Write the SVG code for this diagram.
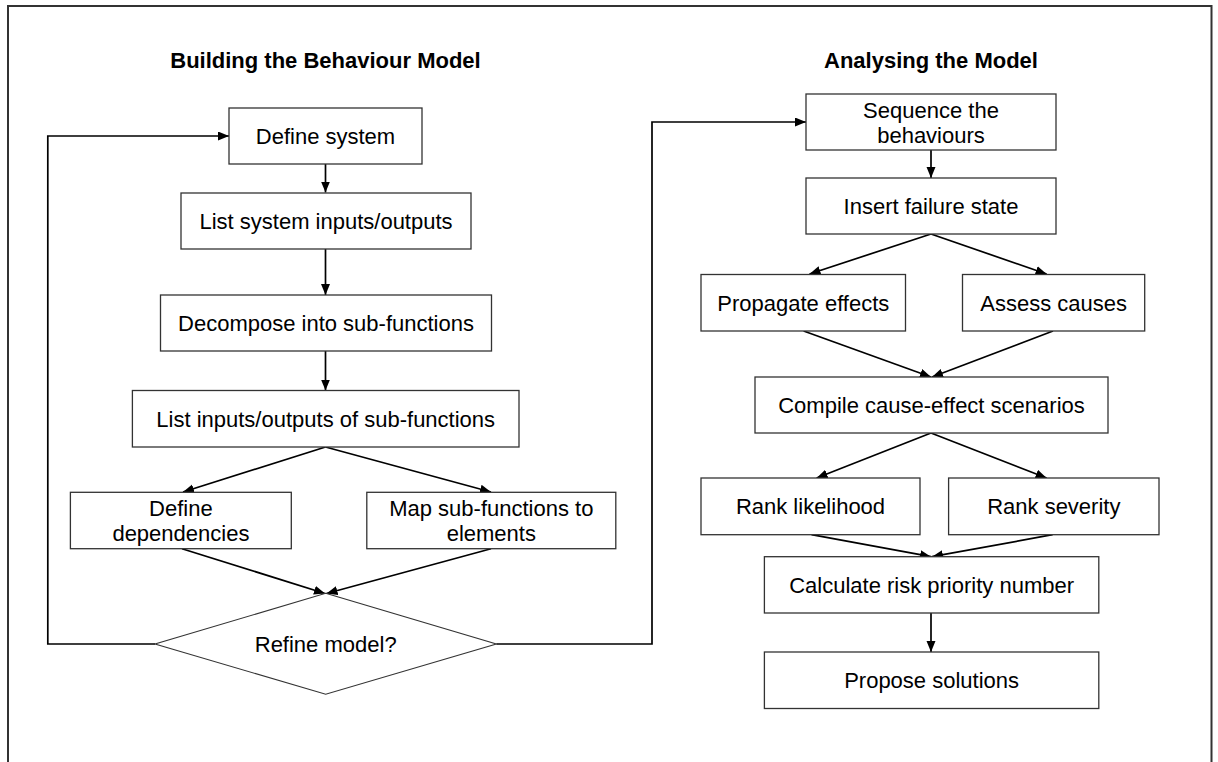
<svg xmlns="http://www.w3.org/2000/svg" width="1218" height="762" viewBox="0 0 1218 762">
  <defs>
    <marker id="arrow" markerUnits="userSpaceOnUse" markerWidth="12" markerHeight="10" refX="11" refY="4.5" orient="auto">
      <path d="M0,0 L11,4.5 L0,9 Z" fill="#000"/>
    </marker>
  </defs>
  <style>
    .box { fill: #fff; stroke: #333; stroke-width: 1.3; }
    .dia { fill: #fff; stroke: #333; stroke-width: 1.1; }
    .lbl { font-family: "Liberation Sans", Arial, sans-serif; font-size: 22px; fill: #000; text-anchor: middle; }
    .ttl { font-family: "Liberation Sans", Arial, sans-serif; font-size: 22px; font-weight: bold; fill: #000; text-anchor: middle; }
    .edge { fill: none; stroke: #000; stroke-width: 1.7; marker-end: url(#arrow); }
    .frame { fill: none; stroke: #333; stroke-width: 2; }
  </style>
  <rect width="1218" height="762" fill="#fff"/>

  <!-- open frame: left, top and right edges -->
  <path class="frame" d="M8,762 V6 H1211.5 V762"/>

  <!-- section headings -->
  <text class="ttl" x="325.5" y="68">Building the Behaviour Model</text>
  <text class="ttl" x="931" y="68">Analysing the Model</text>

  <!-- connectors -->
  <g id="connectors">
    <path class="edge" d="M325.5,164 V192.5"/>
    <path class="edge" d="M325.5,249 V295"/>
    <path class="edge" d="M325.5,351 V390.5"/>
    <path class="edge" d="M325.5,447 L183,492"/>
    <path class="edge" d="M325.5,447 L491,492"/>
    <path class="edge" d="M182,548.7 L325,593.5"/>
    <path class="edge" d="M491,548.7 L326.5,593.5"/>
    <path class="edge" d="M155,644 H47.8 V136 H229"/>
    <path class="edge" d="M496.4,644 H652 V122 H806"/>
    <path class="edge" d="M931,150 V178"/>
    <path class="edge" d="M931,234 L809.5,274"/>
    <path class="edge" d="M931,234 L1046.6,274"/>
    <path class="edge" d="M803.6,331 L931,377"/>
    <path class="edge" d="M1053,331 L932,377"/>
    <path class="edge" d="M931,433 L816.6,478"/>
    <path class="edge" d="M931,433 L1046.6,478"/>
    <path class="edge" d="M811.5,534.7 L931,556.7"/>
    <path class="edge" d="M1052.6,534.7 L932,556.7"/>
    <path class="edge" d="M931,613 V652"/>
  </g>

  <!-- building the behaviour model -->
  <g id="define-system">
    <rect class="box" x="229" y="108" width="193" height="56"/>
    <text class="lbl" x="325.5" y="144">Define system</text>
  </g>
  <g id="list-system-io">
    <rect class="box" x="181" y="193" width="290" height="56"/>
    <text class="lbl" x="326" y="229">List system inputs/outputs</text>
  </g>
  <g id="decompose">
    <rect class="box" x="160.5" y="295" width="331" height="56"/>
    <text class="lbl" x="326" y="331">Decompose into sub-functions</text>
  </g>
  <g id="list-subfunction-io">
    <rect class="box" x="132.4" y="390.5" width="386.6" height="56.5"/>
    <text class="lbl" x="325.7" y="426.7">List inputs/outputs of sub-functions</text>
  </g>
  <g id="define-dependencies">
    <rect class="box" x="70.4" y="492.3" width="220.9" height="56.4"/>
    <text class="lbl" x="180.9" y="516">Define</text>
    <text class="lbl" x="180.9" y="541">dependencies</text>
  </g>
  <g id="map-elements">
    <rect class="box" x="366.8" y="492.3" width="249" height="56.4"/>
    <text class="lbl" x="491.3" y="516">Map sub-functions to</text>
    <text class="lbl" x="491.3" y="541">elements</text>
  </g>
  <g id="refine-model">
    <polygon class="dia" points="325.7,593.3 496.4,644 325.7,694.3 155,644"/>
    <text class="lbl" x="325.7" y="652">Refine model?</text>
  </g>

  <!-- analysing the model -->
  <g id="sequence-behaviours">
    <rect class="box" x="806" y="94" width="250" height="56"/>
    <text class="lbl" x="931" y="117.5">Sequence the</text>
    <text class="lbl" x="931" y="142.5">behaviours</text>
  </g>
  <g id="insert-failure">
    <rect class="box" x="806" y="178" width="250" height="56"/>
    <text class="lbl" x="931" y="214">Insert failure state</text>
  </g>
  <g id="propagate-effects">
    <rect class="box" x="701" y="274.5" width="204.5" height="56.5"/>
    <text class="lbl" x="803.3" y="310.7">Propagate effects</text>
  </g>
  <g id="assess-causes">
    <rect class="box" x="962.5" y="274.5" width="182.2" height="56.5"/>
    <text class="lbl" x="1053.6" y="310.7">Assess causes</text>
  </g>
  <g id="compile-scenarios">
    <rect class="box" x="755" y="377" width="353" height="56"/>
    <text class="lbl" x="931.5" y="413">Compile cause-effect scenarios</text>
  </g>
  <g id="rank-likelihood">
    <rect class="box" x="701" y="478" width="219" height="56.7"/>
    <text class="lbl" x="810.5" y="514.3">Rank likelihood</text>
  </g>
  <g id="rank-severity">
    <rect class="box" x="948.6" y="478" width="210.4" height="56.7"/>
    <text class="lbl" x="1053.8" y="514.3">Rank severity</text>
  </g>
  <g id="risk-priority">
    <rect class="box" x="764.4" y="556.7" width="334.4" height="56.3"/>
    <text class="lbl" x="931.6" y="592.8">Calculate risk priority number</text>
  </g>
  <g id="propose-solutions">
    <rect class="box" x="764.4" y="652" width="334.4" height="56.5"/>
    <text class="lbl" x="931.6" y="688.2">Propose solutions</text>
  </g>
</svg>
